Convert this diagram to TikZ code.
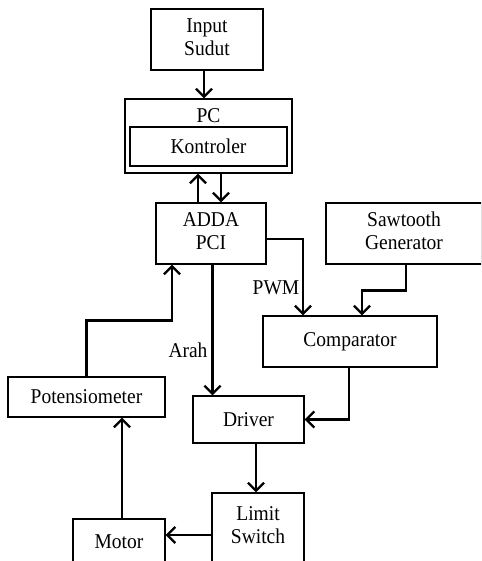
\documentclass[tikz,border=0pt]{standalone}
\usepackage{fontspec}
\usepackage{graphicx}
\setmainfont{Liberation Serif}
\usetikzlibrary{arrows.meta}
\newcommand\vstr[1]{\scalebox{1}[1.08]{#1}}
\newcommand\twol[2]{\vstr{\begin{tabular}{@{}c@{}}#1\\[-1pt]#2\end{tabular}}}
\begin{document}
\begin{tikzpicture}[x=1pt,y=-1pt,
  blk/.style={draw=black,line width=1.4pt,rectangle,inner sep=0pt,align=center,
    font=\fontsize{19.5pt}{22pt}\selectfont},
  arr/.style={line width=2.5pt,-{Straight Barb[length=8pt,width=16pt,line width=2.3pt]}},
  lbl/.style={font=\fontsize{19.5pt}{22pt}\selectfont,inner sep=0pt}]
\useasboundingbox (0,0) rectangle (481,561);
\path[clip] (0,0) rectangle (481,561);
\node[blk,minimum width=112pt,minimum height=61pt] (inp) at (207,39.5) {\twol{Input}{Sudut}};
\node[blk,minimum width=167pt,minimum height=74pt] (pc) at (208.5,136) {};
\node[lbl] (pctext) at (208.5,116) {\vstr{PC}};
\node[blk,minimum width=157pt,minimum height=39pt] (kon) at (208.5,146.5) {\vstr{Kontroler}};
\node[blk,minimum width=110pt,minimum height=61pt] (adda) at (211,233.5) {\twol{ADDA}{PCI}};
\node[blk,minimum width=156pt,minimum height=61pt] (saw) at (404,233.5) {\twol{Sawtooth}{Generator}};
\node[blk,minimum width=174pt,minimum height=51pt] (cmp) at (350,341.5) {\vstr{Comparator}};
\node[blk,minimum width=111pt,minimum height=47pt] (drv) at (248.5,419.5) {\vstr{Driver}};
\node[blk,minimum width=92pt,minimum height=72pt] (lim) at (258,529) {};
\node[lbl] (limtext) at (258,527) {\twol{Limit}{Switch}};
\node[blk,minimum width=92pt,minimum height=46pt] (mot) at (119,542) {\vstr{Motor}};
\node[blk,minimum width=157pt,minimum height=40pt] (pot) at (86.5,397) {\vstr{Potensiometer}};
\node[lbl] (pwm) at (276,288) {\vstr{PWM}};
\node[lbl] (arah) at (188,350) {\vstr{Arah}};
% connectors
\draw[arr] ([xshift=-3pt]inp.south) -- ([xshift=-3pt]inp.south |- pc.north);
\draw[arr] ([xshift=-13pt]adda.north) -- ([xshift=-13pt]adda.north |- pc.south);
\draw[arr] ([xshift=10pt]adda.north |- pc.south) -- ([xshift=10pt]adda.north);
\draw[arr] ([yshift=-5.5pt]adda.east) -| ([xshift=-47pt]cmp.north);
\draw[arr] ([xshift=2pt]saw.south) -- ++(0,26) -| ([xshift=12pt]cmp.north);
\draw[arr] ([xshift=1.5pt]adda.south) -- ([xshift=1.5pt]adda.south |- drv.north);
\draw[arr] ([xshift=-1pt]cmp.south) |- (drv.east);
\draw[arr] ([xshift=7.5pt]drv.south) -- ([xshift=7.5pt]drv.south |- lim.north);
\draw[arr] ([yshift=-6pt]lim.west) -- ([yshift=-6pt]lim.west -| mot.east);
\draw[arr] ([xshift=3pt]mot.north) -- ([xshift=3pt]mot.north |- pot.south);
\draw[arr] (pot.north) -- ++(0,-56) -| ([xshift=-39pt]adda.south);
\end{tikzpicture}
\end{document}
